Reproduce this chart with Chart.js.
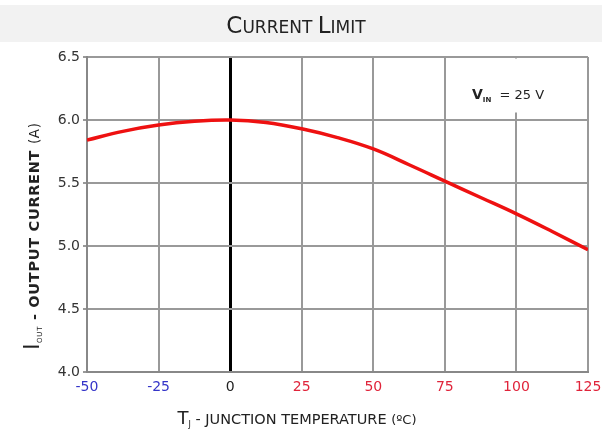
<!DOCTYPE html>
<html>
<head>
<meta charset="utf-8">
<script src="https://cdn.jsdelivr.net/npm/chart.js@4/dist/chart.umd.min.js"></script>
<style>
  html, body { margin: 0; padding: 0; background: #fff; }
  #wrap { width: 602px; height: 436px; }
</style>
</head>
<body>
<div id="wrap"><canvas id="current_limit" width="602" height="436"></canvas></div>
<script>
// values
const temperatures = [-50, -37.5, -25, -12.5, 0, 12.5, 25, 37.5, 50, 62.5, 75, 87.5, 100, 112.5, 125];
const outputCurrent = [5.84, 5.91, 5.96, 5.99, 6.0, 5.98, 5.93, 5.86, 5.77, 5.645, 5.515, 5.385, 5.255, 5.115, 4.97];
const xTicks = [-50, -25, 0, 25, 50, 75, 100, 125];
const yTicks = [4.0, 4.5, 5.0, 5.5, 6.0, 6.5];

const FONT = '"DejaVu Sans", sans-serif';

function drawRuns(ctx, runs, x, y) {
  // runs: [text, font, dy]
  let cx = x;
  runs.forEach(r => {
    ctx.font = r[1];
    ctx.fillText(r[0], cx, y + (r[2] || 0));
    cx += ctx.measureText(r[0]).width;
  });
  return cx - x;
}
function runsWidth(ctx, runs) {
  let w = 0;
  runs.forEach(r => { ctx.font = r[1]; w += ctx.measureText(r[0]).width; });
  return w;
}

const textPlugin = {
  id: 'textPlugin',
  beforeDraw(chart) {
    const ctx = chart.ctx;
    ctx.save();
    ctx.fillStyle = '#f2f2f2';
    ctx.fillRect(0, 5, chart.width, 37);
    // title in small caps
    const big = '500 23px ' + FONT, small = '500 17px ' + FONT;
    const title = [['C', big], ['URRENT ', small], ['L', big], ['IMIT', small]];
    ctx.fillStyle = '#222';
    ctx.textBaseline = 'alphabetic';
    const tw = runsWidth(ctx, title);
    drawRuns(ctx, title, 296 - tw / 2, 33);
    ctx.restore();
  },
  beforeDatasetsDraw(chart) {
    const ctx = chart.ctx;
    const xs = chart.scales.x, ys = chart.scales.y;
    ctx.save();
    // white box behind the condition label
    const l = xs.getPixelForValue(75) + 1.5, r = xs.getPixelForValue(125) - 1.5;
    ctx.fillStyle = '#fff';
    ctx.fillRect(l, ys.getPixelForValue(6.5) + 1.5, r - l, 54);
    ctx.fillStyle = '#222';
    ctx.textBaseline = 'alphabetic';
    drawRuns(ctx, [
      ['V', 'bold 14px ' + FONT],
      ['IN', 'bold 7px ' + FONT, 3],
      ['  = 25 V', '13px ' + FONT]
    ], 472, 99);
    ctx.restore();
  },
  afterDraw(chart) {
    const ctx = chart.ctx;
    ctx.save();
    ctx.fillStyle = '#222';
    ctx.textBaseline = 'alphabetic';
    // x axis title
    const xt = [
      ['T', '18px ' + FONT],
      ['J', '8px ' + FONT, 3],
      [' - JUNCTION TEMPERATURE ', '14.5px ' + FONT],
      ['(ºC)', '13px ' + FONT]
    ];
    const xw = runsWidth(ctx, xt);
    drawRuns(ctx, xt, 297 - xw / 2, 424);
    // y axis title
    ctx.translate(39, 236);
    ctx.rotate(-Math.PI / 2);
    ctx.letterSpacing = '0.7px';
    const yt = [
      ['I', '21px ' + FONT],
      ['OUT', '7px ' + FONT, 3],
      [' - OUTPUT CURRENT ', 'bold 14.5px ' + FONT],
      ['(A)', '13.5px ' + FONT]
    ];
    const yw = runsWidth(ctx, yt);
    drawRuns(ctx, yt, -yw / 2, 0);
    ctx.restore();
  }
};

const ctx = document.getElementById('current_limit').getContext('2d');
const chart = new Chart(ctx, {
  type: 'line',
  data: {
    datasets: [{
      label: 'Output current',
      data: temperatures.map((t, i) => ({ x: t, y: outputCurrent[i] })),
      borderColor: '#ee1111',
      borderWidth: 3.5,
      pointRadius: 0,
      tension: 0.4,
      fill: false
    }]
  },
  options: {
    responsive: false,
    animation: false,
    layout: { padding: { top: 57, right: 0, left: 0, bottom: 0 } },
    plugins: { legend: { display: false }, tooltip: { enabled: false } },
    scales: {
      x: {
        type: 'linear',
        min: -50, max: 125,
        afterBuildTicks: s => { s.ticks = xTicks.map(v => ({ value: v })); },
        afterFit: s => { s.height = 64; s.paddingRight = 14; s.paddingLeft = 0; },
        grid: {
          color: c => c.tick && c.tick.value === 0 ? '#000' : '#999',
          lineWidth: c => c.tick && c.tick.value === 0 ? 3 : 2,
          drawTicks: false
        },
        border: { color: '#888', width: 2 },
        ticks: {
          padding: 7,
          font: { family: FONT, size: 14 },
          color: c => c.tick.value < 0 ? '#3535c8' : (c.tick.value > 0 ? '#e0243a' : '#222')
        }
      },
      y: {
        min: 4, max: 6.5,
        afterBuildTicks: s => { s.ticks = yTicks.map(v => ({ value: v })); },
        afterFit: s => { s.width = 87; },
        grid: { color: '#999', lineWidth: 2, tickLength: 4 },
        border: { color: '#888', width: 2 },
        ticks: {
          padding: 3,
          font: { family: FONT, size: 14 },
          color: '#333',
          callback: v => v.toFixed(1)
        }
      }
    }
  },
  plugins: [textPlugin]
});
</script>
</body>
</html>
